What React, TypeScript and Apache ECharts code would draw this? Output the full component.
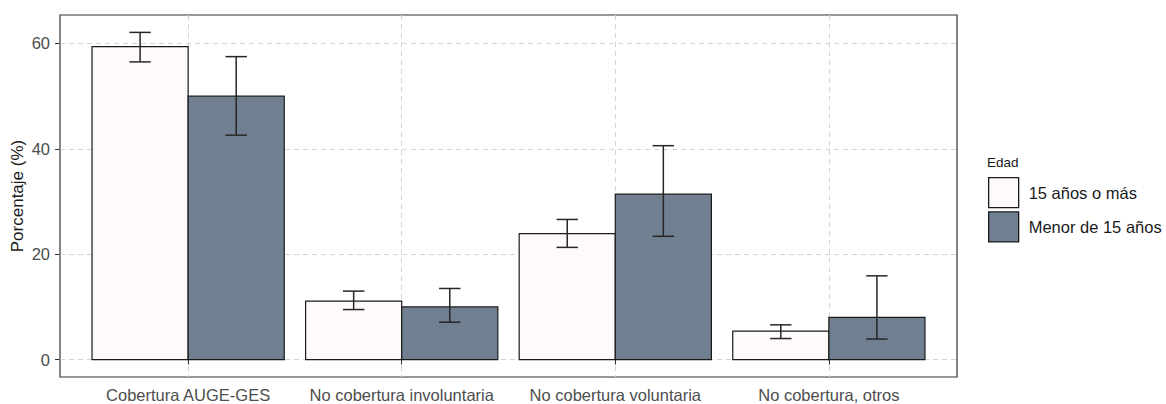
import React, { useEffect, useRef } from "react";
import * as echarts from "echarts";

const categories = [
  "Cobertura AUGE-GES",
  "No cobertura involuntaria",
  "No cobertura voluntaria",
  "No cobertura, otros",
];
const seriesNames = ["15 años o más", "Menor de 15 años"];
const adultValues = [59.4, 11.1, 23.9, 5.4];
const adultLow = [56.5, 9.5, 21.3, 4.0];
const adultHigh = [62.1, 13.0, 26.6, 6.6];
const childValues = [50.0, 10.0, 31.4, 8.0];
const childLow = [42.6, 7.1, 23.4, 3.9];
const childHigh = [57.5, 13.5, 40.6, 15.9];
const yTicks = [0, 20, 40, 60];
const xTicks = [1, 2, 3, 4];

const FONT = "'Liberation Sans', Arial, sans-serif";
const colors = ["#FFFAFA", "#708090"];

function makeRender(offset: number, fill: string) {
  return (params: any, api: any) => {
    const cat = api.value(0);
    const val = api.value(1);
    const lo = api.value(2);
    const hi = api.value(3);
    const unit = api.size([1, 0])[0];
    const barW = unit * 0.45;
    const capW = unit * 0.1;
    const base = api.coord([cat + offset, 0]);
    const top = api.coord([cat + offset, val]);
    const pLo = api.coord([cat + offset, lo]);
    const pHi = api.coord([cat + offset, hi]);
    const cx = base[0];
    const errStyle = { stroke: "#262626", lineWidth: 1.5, fill: null };
    return {
      type: "group",
      children: [
        {
          type: "rect",
          shape: { x: cx - barW / 2, y: top[1], width: barW, height: base[1] - top[1] },
          style: { fill, stroke: "#1a1a1a", lineWidth: 1.2 },
        },
        { type: "line", shape: { x1: cx, y1: pLo[1], x2: cx, y2: pHi[1] }, style: errStyle },
        { type: "line", shape: { x1: cx - capW / 2, y1: pLo[1], x2: cx + capW / 2, y2: pLo[1] }, style: errStyle },
        { type: "line", shape: { x1: cx - capW / 2, y1: pHi[1], x2: cx + capW / 2, y2: pHi[1] }, style: errStyle },
      ],
    };
  };
}

export default function App() {
  const ref = useRef<HTMLDivElement>(null);
  useEffect(() => {
    if (!ref.current) return;
    const chart = echarts.init(ref.current, null, { renderer: "svg" });
    const adultData = categories.map((_, i) => [i + 1, adultValues[i], adultLow[i], adultHigh[i]]);
    const childData = categories.map((_, i) => [i + 1, childValues[i], childLow[i], childHigh[i]]);
    const gridLine = { show: true, lineStyle: { color: "#d4d4d4", width: 1, type: [5, 4] as any } };
    chart.setOption({
      animation: false,
      backgroundColor: "#ffffff",
      textStyle: { fontFamily: FONT },
      grid: {
        left: 60,
        right: 1166 - 957,
        top: 15,
        bottom: 404 - 377,
        containLabel: false,
        outerBoundsMode: "none",
        show: true,
        borderColor: "#333333",
        borderWidth: 1.2,
        backgroundColor: "transparent",
      },
      graphic: [
        {
          type: "text",
          left: 987,
          top: 155,
          style: { text: "Edad", fontSize: 13.5, fill: "#1a1a1a", fontFamily: FONT },
        },
      ],
      legend: {
        orient: "vertical",
        left: 988,
        top: 177,
        padding: 0,
        itemWidth: 30,
        itemHeight: 30,
        itemGap: 3,
        icon: "rect",
        data: seriesNames,
        itemStyle: { borderColor: "#1a1a1a", borderWidth: 1.3 },
        textStyle: { fontSize: 16.5, color: "#1a1a1a", fontFamily: FONT, padding: [0, 0, 0, 5] },
        selectedMode: false,
      },
      xAxis: {
        type: "value",
        min: 0.4,
        max: 4.6,
        axisLine: { show: false },
        axisTick: { show: true, length: 5, customValues: xTicks, lineStyle: { color: "#333333" } },
        axisLabel: {
          customValues: xTicks,
          margin: 9,
          fontSize: 16.5,
          color: "#4d4d4d",
          fontFamily: FONT,
          formatter: (v: number) => categories[Math.round(v) - 1] ?? "",
        },
        splitLine: gridLine,
      },
      yAxis: {
        type: "value",
        min: -3.3,
        max: 65.4,
        name: "Porcentaje (%)",
        nameLocation: "middle",
        nameGap: 34,
        nameMoveOverlap: false,
        nameTextStyle: { fontSize: 17, color: "#1a1a1a", fontFamily: FONT },
        axisLine: { show: false },
        axisTick: { show: true, length: 5, customValues: yTicks, lineStyle: { color: "#333333" } },
        axisLabel: { customValues: yTicks, margin: 10, fontSize: 16.5, color: "#4d4d4d", fontFamily: FONT },
        splitLine: gridLine,
      },
      series: [
        {
          type: "custom",
          name: seriesNames[0],
          itemStyle: { color: colors[0] },
          renderItem: makeRender(-0.225, colors[0]),
          encode: { x: 0, y: [1, 2, 3] },
          data: adultData,
          z: 3,
        },
        {
          type: "custom",
          name: seriesNames[1],
          itemStyle: { color: colors[1] },
          renderItem: makeRender(0.225, colors[1]),
          encode: { x: 0, y: [1, 2, 3] },
          data: childData,
          z: 3,
        },
      ],
    });
    return () => chart.dispose();
  }, []);
  return (
    <div
      ref={ref}
      style={{ position: "absolute", left: 0, top: 0, width: 1166, height: 404 }}
    />
  );
}
